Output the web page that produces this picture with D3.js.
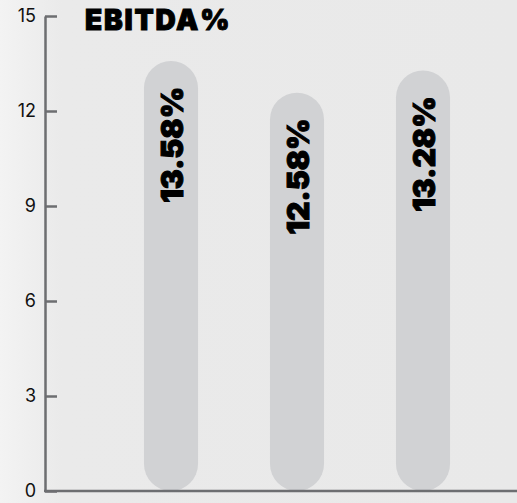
<!DOCTYPE html>
<html>
<head>
<meta charset="utf-8">
<script src="https://cdn.jsdelivr.net/npm/d3@7"></script>
<style>
  html, body { margin: 0; padding: 0; }
  body { width: 517px; height: 503px; overflow: hidden; }
  svg { display: block; }
</style>
</head>
<body>
<svg></svg>
<script>
const width = 517;
const height = 503;

// chart data
const categories = ['Year 1', 'Year 2', 'Year 3'];
const ebitda = [13.58, 12.58, 13.28];
const yTicks = [0, 3, 6, 9, 12, 15];
const title = 'EBITDA%';

const svg = d3.select('svg')
    .attr('width', width).attr('height', height);

// soft background
const defs = svg.append('defs');
const grad = defs.append('linearGradient').attr('id', 'bg')
    .attr('x1', 0).attr('x2', 1).attr('y1', 0).attr('y2', 0);
grad.append('stop').attr('offset', '0%').attr('stop-color', '#f3f3f3');
grad.append('stop').attr('offset', '12%').attr('stop-color', '#eaeaea');
grad.append('stop').attr('offset', '100%').attr('stop-color', '#e9e9e9');
svg.append('rect').attr('width', width).attr('height', height).attr('fill', 'url(#bg)');

const axisLeftX = 45;
const y = d3.scaleLinear().domain([0, 15]).range([491, 16]);
const x = d3.scaleBand()
    .domain(categories)
    .range([108, 486])
    .paddingInner(0.571)
    .paddingOuter(0.2855);

// bars
const bw = x.bandwidth();
svg.append('g').selectAll('rect')
    .data(ebitda)
    .enter().append('rect')
    .attr('x', (d, i) => x(categories[i]))
    .attr('y', d => y(d))
    .attr('width', bw)
    .attr('height', d => y(0) - y(d))
    .attr('rx', bw / 2)
    .attr('ry', bw / 2)
    .attr('fill', '#d1d2d4');

// value labels, rotated
svg.append('g').selectAll('text')
    .data(ebitda)
    .enter().append('text')
    .attr('transform', (d, i) => {
        const cx = x(categories[i]) + bw / 2 + 12;
        const cy = y(d) + 26;
        return `translate(${cx},${cy}) rotate(-90)`;
    })
    .attr('text-anchor', 'end')
    .style('font-family', 'Inter, sans-serif')
    .style('font-weight', 900)
    .style('font-size', '30px')
    .style('fill', '#000')
    .style('stroke', '#000')
    .style('stroke-width', 1)
    .text(d => d.toFixed(2) + '%');

// y axis
const yAxis = d3.axisLeft(y)
    .tickValues(yTicks)
    .tickSize(-12)
    .tickSizeOuter(0)
    .tickPadding(9);
const gy = svg.append('g')
    .attr('transform', `translate(${axisLeftX},0)`)
    .call(yAxis);
gy.select('.domain').attr('stroke', '#6d6e71').attr('stroke-width', 2.5);
gy.selectAll('.tick line').attr('stroke', '#6d6e71').attr('stroke-width', 2.5);
gy.selectAll('.tick text')
    .style('font-family', 'Inter, sans-serif')
    .style('font-size', '18px')
    .style('fill', '#111');

// baseline
svg.append('line')
    .attr('x1', axisLeftX - 1).attr('x2', width)
    .attr('y1', y(0)).attr('y2', y(0))
    .attr('stroke', '#6d6e71').attr('stroke-width', 2.5);

// title
svg.append('text')
    .attr('x', 85).attr('y', 30)
    .style('font-family', 'Inter, sans-serif')
    .style('font-weight', 900)
    .style('font-size', '28px')
    .style('letter-spacing', '1.8px')
    .style('fill', '#000')
    .style('stroke', '#000')
    .style('stroke-width', 1)
    .text(title);
</script>
</body>
</html>
